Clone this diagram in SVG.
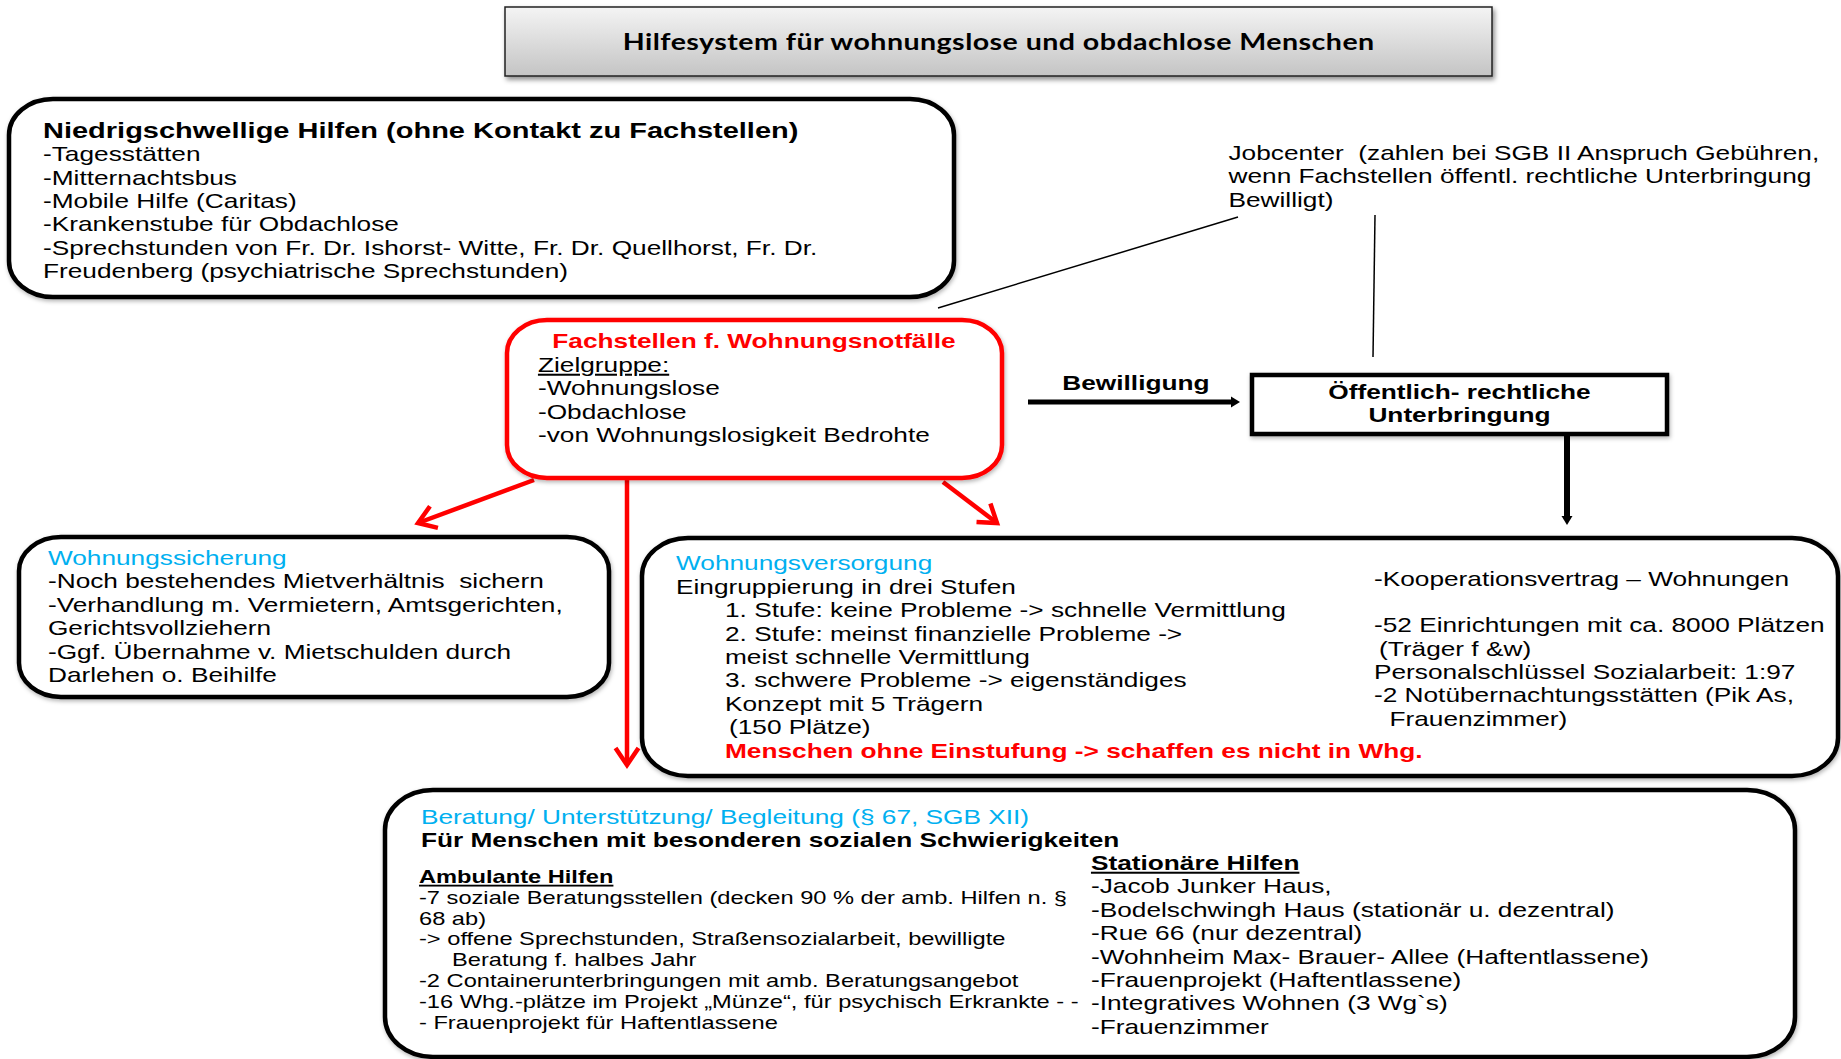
<svg xmlns="http://www.w3.org/2000/svg" width="1841" height="1059" viewBox="0 0 1841 1059">
<style>
.t{font-family:"Liberation Sans",Arial,sans-serif;font-size:20.2px;fill:#000}
.b{font-weight:bold}
.cy{fill:#00b0f0}
.rd{fill:#ff0000}
.sm{font-size:18.2px}
.u{text-decoration:underline}
.mid{text-anchor:middle}
.box{fill:#fff;stroke:#000;stroke-width:4.5}
.rbox{fill:#fff;stroke:#ff0000;stroke-width:4.5}
.thin{stroke:#000;stroke-width:1.5;fill:none}
.red{stroke:#ff0000;stroke-width:4.5;fill:none}
.ttl{font-family:Lato,"Liberation Sans",sans-serif;font-weight:bold;font-size:22px;fill:#000}
</style>
<defs>
<linearGradient id="gr" x1="0" y1="0" x2="0" y2="1">
<stop offset="0" stop-color="#f4f4f4"/>
<stop offset="1" stop-color="#c4c4c4"/>
</linearGradient>
<filter id="sh" x="-5%" y="-20%" width="110%" height="150%">
<feDropShadow dx="2" dy="3" stdDeviation="2.5" flood-color="#000" flood-opacity="0.45"/>
</filter>
<filter id="sh2" x="-5%" y="-10%" width="110%" height="130%">
<feDropShadow dx="1" dy="2" stdDeviation="2" flood-color="#000" flood-opacity="0.3"/>
</filter>
<marker id="tri" markerUnits="userSpaceOnUse" markerWidth="12" markerHeight="14" refX="0" refY="7" orient="auto" overflow="visible">
<path d="M0,1.5 L9,7 L0,12.5 z" fill="#000"/>
</marker>
<marker id="chev" markerUnits="userSpaceOnUse" markerWidth="30" markerHeight="30" refX="24" refY="15" orient="auto" overflow="visible">
<path d="M7,3.5 L24,15 L7,26.5" fill="none" stroke="#ff0000" stroke-width="4.5"/>
</marker>
</defs>
<rect width="1841" height="1059" fill="#fff"/>

<g id="connectors">
<line class="thin" x1="1238" y1="217" x2="938" y2="308"/>
<line class="thin" x1="1375" y1="215" x2="1373" y2="357"/>
<line x1="1028" y1="402" x2="1231" y2="402" stroke="#000" stroke-width="5" marker-end="url(#tri)"/>
<line x1="1567" y1="434" x2="1567" y2="516" stroke="#000" stroke-width="6" marker-end="url(#tri)"/>
<line class="red" x1="534" y1="480" x2="418" y2="523" marker-end="url(#chev)"/>
<line class="red" x1="627" y1="480" x2="627" y2="765" marker-end="url(#chev)"/>
<line class="red" x1="943" y1="482" x2="997" y2="523" marker-end="url(#chev)"/>
</g>

<g id="title">
<rect x="505" y="7" width="987" height="69" fill="url(#gr)" stroke="#222" stroke-width="1.5" filter="url(#sh)"/>
<g transform="scale(1.3 1)">
<text class="ttl mid" x="768.1" y="50" textLength="578">Hilfesystem für wohnungslose und obdachlose Menschen</text>
</g>
</g>

<g id="niedrigschwellig">
<rect class="box" x="9" y="99" width="945" height="198" rx="44" ry="36" filter="url(#sh2)"/>
<g transform="scale(1.3 1)">
<text class="t b" x="33.1" y="138" style="font-size:22.3px">Niedrigschwellige Hilfen (ohne Kontakt zu Fachstellen)</text>
<text class="t" x="33.1" y="161.5">-Tagesstätten</text>
<text class="t" x="33.1" y="184.8">-Mitternachtsbus</text>
<text class="t" x="33.1" y="208.1">-Mobile Hilfe (Caritas)</text>
<text class="t" x="33.1" y="231.4">-Krankenstube für Obdachlose</text>
<text class="t" x="33.1" y="254.7">-Sprechstunden von Fr. Dr. Ishorst- Witte, Fr. Dr. Quellhorst, Fr. Dr.</text>
<text class="t" x="33.1" y="278">Freudenberg (psychiatrische Sprechstunden)</text>
</g>
</g>

<g id="jobcenter">
<g transform="scale(1.3 1)">
<text class="t" x="945" y="160" xml:space="preserve">Jobcenter  (zahlen bei SGB II Anspruch Gebühren,</text>
<text class="t" x="945" y="183.3">wenn Fachstellen öffentl. rechtliche Unterbringung</text>
<text class="t" x="945" y="206.6">Bewilligt)</text>
</g>
</g>

<g id="fachstellen">
<rect class="rbox" x="507" y="320" width="495" height="158" rx="40" ry="33" filter="url(#sh2)"/>
<g transform="scale(1.3 1)">
<text class="t b rd mid" x="580" y="348">Fachstellen f. Wohnungsnotfälle</text>
<text class="t u" x="413.8" y="372">Zielgruppe:</text>
<text class="t" x="413.8" y="395.3">-Wohnungslose</text>
<text class="t" x="413.8" y="418.6">-Obdachlose</text>
<text class="t" x="413.8" y="441.9">-von Wohnungslosigkeit Bedrohte</text>
</g>
</g>

<g id="bewilligung-label">
<g transform="scale(1.3 1)">
<text class="t b mid" x="873.8" y="390">Bewilligung</text>
</g>
</g>

<g id="oeffentlich">
<rect class="box" x="1252" y="375" width="415" height="59" filter="url(#sh2)"/>
<g transform="scale(1.3 1)">
<text class="t b mid" x="1122.7" y="399">Öffentlich- rechtliche</text>
<text class="t b mid" x="1122.7" y="422">Unterbringung</text>
</g>
</g>

<g id="wohnungssicherung">
<rect class="box" x="19" y="537" width="590" height="160" rx="42" ry="34" filter="url(#sh2)"/>
<g transform="scale(1.3 1)">
<text class="t cy" x="36.9" y="565">Wohnungssicherung</text>
<text class="t" x="36.9" y="588.4" xml:space="preserve">-Noch bestehendes Mietverhältnis  sichern</text>
<text class="t" x="36.9" y="611.8">-Verhandlung m. Vermietern, Amtsgerichten,</text>
<text class="t" x="36.9" y="635.2">Gerichtsvollziehern</text>
<text class="t" x="36.9" y="658.6">-Ggf. Übernahme v. Mietschulden durch</text>
<text class="t" x="36.9" y="682">Darlehen o. Beihilfe</text>
</g>
</g>

<g id="wohnungsversorgung">
<rect class="box" x="642" y="538" width="1196" height="238" rx="46" ry="38" filter="url(#sh2)"/>
<g transform="scale(1.3 1)">
<text class="t cy" x="520" y="570.5">Wohnungsversorgung</text>
<text class="t" x="520" y="593.9">Eingruppierung in drei Stufen</text>
<text class="t" x="557.7" y="617.3">1. Stufe: keine Probleme -&gt; schnelle Vermittlung</text>
<text class="t" x="557.7" y="640.7">2. Stufe: meinst finanzielle Probleme -&gt;</text>
<text class="t" x="557.7" y="664.1">meist schnelle Vermittlung</text>
<text class="t" x="557.7" y="687.5">3. schwere Probleme -&gt; eigenständiges</text>
<text class="t" x="557.7" y="710.9">Konzept mit 5 Trägern</text>
<text class="t" x="560.8" y="734.3">(150 Plätze)</text>
<text class="t b rd" x="557.7" y="757.7">Menschen ohne Einstufung -&gt; schaffen es nicht in Whg.</text>
<text class="t" x="1056.9" y="586">-Kooperationsvertrag – Wohnungen</text>
<text class="t" x="1056.9" y="632.5">-52 Einrichtungen mit ca. 8000 Plätzen</text>
<text class="t" x="1060.8" y="655.8">(Träger f &amp;w)</text>
<text class="t" x="1056.9" y="679.1">Personalschlüssel Sozialarbeit: 1:97</text>
<text class="t" x="1056.9" y="702.4">-2 Notübernachtungsstätten (Pik As,</text>
<text class="t" x="1068.8" y="725.7">Frauenzimmer)</text>
</g>
</g>

<g id="beratung">
<rect class="box" x="385" y="790" width="1410" height="267" rx="48" ry="40" filter="url(#sh2)"/>
<g transform="scale(1.3 1)">
<text class="t cy" x="323.8" y="824.5">Beratung/ Unterstützung/ Begleitung (§ 67, SGB XII)</text>
<text class="t b" x="323.8" y="847.5">Für Menschen mit besonderen sozialen Schwierigkeiten</text>
<text class="t sm b u" x="322.3" y="883">Ambulante Hilfen</text>
<text class="t sm" x="322.3" y="903.8">-7 soziale Beratungsstellen (decken 90 % der amb. Hilfen n. §</text>
<text class="t sm" x="322.3" y="924.6">68 ab)</text>
<text class="t sm" x="322.3" y="945.4">-&gt; offene Sprechstunden, Straßensozialarbeit, bewilligte</text>
<text class="t sm" x="347.7" y="966.2">Beratung f. halbes Jahr</text>
<text class="t sm" x="322.3" y="987">-2 Containerunterbringungen mit amb. Beratungsangebot</text>
<text class="t sm" x="322.3" y="1007.8">-16 Whg.-plätze im Projekt „Münze“, für psychisch Erkrankte - -</text>
<text class="t sm" x="322.3" y="1028.6">- Frauenprojekt für Haftentlassene</text>
<text class="t b u" x="839.2" y="870">Stationäre Hilfen</text>
<text class="t" x="839.2" y="893.4">-Jacob Junker Haus,</text>
<text class="t" x="839.2" y="916.8">-Bodelschwingh Haus (stationär u. dezentral)</text>
<text class="t" x="839.2" y="940.2">-Rue 66 (nur dezentral)</text>
<text class="t" x="839.2" y="963.6">-Wohnheim Max- Brauer- Allee (Haftentlassene)</text>
<text class="t" x="839.2" y="987">-Frauenprojekt (Haftentlassene)</text>
<text class="t" x="839.2" y="1010.4">-Integratives Wohnen (3 Wg`s)</text>
<text class="t" x="839.2" y="1033.8">-Frauenzimmer</text>
</g>
</g>
</svg>
